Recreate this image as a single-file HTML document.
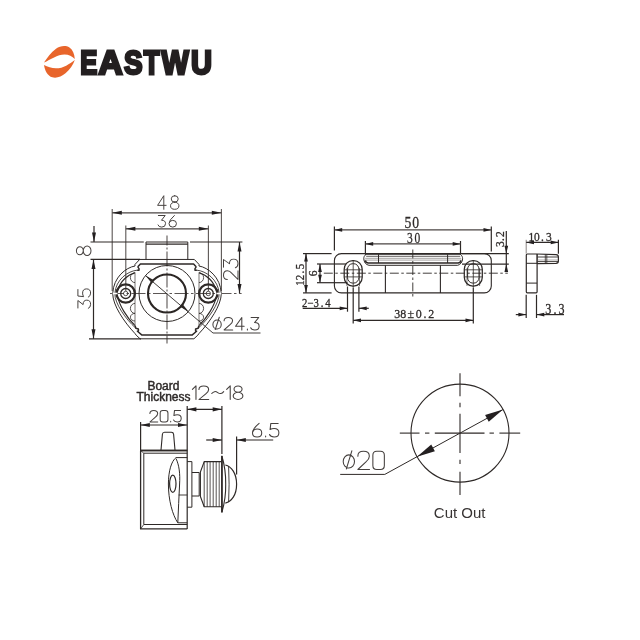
<!DOCTYPE html>
<html><head><meta charset="utf-8"><title>EASTWU drawing</title>
<style>
html,body{margin:0;padding:0;background:#fff;}
body{width:640px;height:640px;overflow:hidden;font-family:"Liberation Sans",sans-serif;}
svg{display:block;}
text{font-family:"Liberation Sans",sans-serif;}
.ser{font-family:"Liberation Serif",serif;}
</style></head><body>
<svg width="640" height="640" viewBox="0 0 640 640">
<defs><filter id="aa" x="0" y="0" width="640" height="640" filterUnits="userSpaceOnUse" color-interpolation-filters="sRGB"><feGaussianBlur stdDeviation="0.35"/></filter></defs>
<rect x="0" y="0" width="640" height="640" fill="#ffffff"/>
<g filter="url(#aa)">
<g id="logo">
<path d="M44.0,62.6 C47,58 51,52.5 56,48.8 C60,46 65.5,45 69.5,47.6 C72.8,49.8 74.4,54 74.8,58.9 C72.3,56.6 68.8,54.6 64.5,54.6 C57.5,54.6 50.5,59.9 44.0,62.6 Z" fill="#e8652b"/>
<path d="M44.0,64.9 C47.5,66.6 51.5,68.3 56,68.3 C63.5,68.3 69.5,63.8 74.8,59.9 C73.2,64.5 70,69.5 65.5,73.3 C61.5,76.6 56.5,78.6 52.3,77.3 C47.5,75.8 44.8,70.5 44.0,64.9 Z" fill="#e8652b"/>
<text transform="translate(80.19,73.60) scale(0.7545,1)" font-size="33.99" font-weight="bold" fill="#231f20" stroke="#231f20" stroke-width="2.8" stroke-linejoin="miter">E</text>
<text transform="translate(98.44,73.60) scale(0.9816,1)" font-size="33.99" font-weight="bold" fill="#231f20" stroke="#231f20" stroke-width="2.8" stroke-linejoin="miter">A</text>
<text transform="translate(124.01,73.60) scale(0.8193,1)" font-size="33.99" font-weight="bold" fill="#231f20" stroke="#231f20" stroke-width="2.8" stroke-linejoin="miter">S</text>
<text transform="translate(143.70,73.60) scale(0.7571,1)" font-size="33.99" font-weight="bold" fill="#231f20" stroke="#231f20" stroke-width="2.8" stroke-linejoin="miter">T</text>
<text transform="translate(161.59,73.60) scale(0.8490,1)" font-size="33.99" font-weight="bold" fill="#231f20" stroke="#231f20" stroke-width="2.8" stroke-linejoin="miter">W</text>
<text transform="translate(190.95,73.60) scale(0.8538,1)" font-size="33.99" font-weight="bold" fill="#231f20" stroke="#231f20" stroke-width="2.8" stroke-linejoin="miter">U</text>
</g>
<g id="tl">
<line x1="112.20" y1="209.00" x2="112.20" y2="291.00" stroke="#5b5654" stroke-width="1.1"/>
<line x1="221.40" y1="209.00" x2="221.40" y2="291.00" stroke="#5b5654" stroke-width="1.1"/>
<line x1="112.20" y1="212.80" x2="221.40" y2="212.80" stroke="#4a4543" stroke-width="1.15"/>
<polygon points="112.20,212.70 121.80,210.70 121.80,214.70" fill="#231f20"/>
<polygon points="221.40,212.70 211.80,214.70 211.80,210.70" fill="#231f20"/>
<g transform="translate(157.60,195.70) scale(1.2920,1.3600)" fill="none" stroke="#45403e" stroke-width="0.735" stroke-linecap="round" stroke-linejoin="round"><path d="M4.8,10 V0 L0,7.1 H6.6" transform="translate(0.00,0)"/><path d="M3.25,0 A2.7,2.35 0 1 0 3.25,4.7 A2.7,2.35 0 1 0 3.25,0 Z M3.25,4.7 A3.25,2.65 0 1 0 3.25,10 A3.25,2.65 0 1 0 3.25,4.7 Z" transform="translate(10.00,0)"/></g>
<line x1="125.80" y1="225.50" x2="125.80" y2="291.00" stroke="#5b5654" stroke-width="1.1"/>
<line x1="208.40" y1="225.50" x2="208.40" y2="291.00" stroke="#5b5654" stroke-width="1.1"/>
<line x1="125.80" y1="228.85" x2="208.40" y2="228.85" stroke="#4a4543" stroke-width="1.15"/>
<polygon points="125.80,228.85 135.40,226.85 135.40,230.85" fill="#231f20"/>
<polygon points="208.40,228.85 198.80,230.85 198.80,226.85" fill="#231f20"/>
<g transform="translate(158.00,215.50) scale(1.1600,1.1600)" fill="none" stroke="#45403e" stroke-width="0.862" stroke-linecap="round" stroke-linejoin="round"><path d="M0.3,0 H6.2 L3.0,4.1 Q6.5,4.1 6.5,7 Q6.5,10 3.2,10 Q0.6,10 0,8.2" transform="translate(0.00,0)"/><path d="M4.6,0 Q0,4 0,7 Q0,10 3.2,10 Q6.4,10 6.4,7 Q6.4,4.2 3.2,4.2 Q0.9,4.2 0.2,6.2" transform="translate(9.50,0)"/></g>
<line x1="90.50" y1="242.00" x2="143.80" y2="242.00" stroke="#2e2927" stroke-width="1.1"/>
<line x1="190.00" y1="242.00" x2="242.40" y2="242.00" stroke="#2e2927" stroke-width="1.1"/>
<line x1="90.50" y1="259.30" x2="140.00" y2="259.30" stroke="#2e2927" stroke-width="1.2"/>
<line x1="89.00" y1="338.80" x2="141.00" y2="338.80" stroke="#2e2927" stroke-width="1.2"/>
<line x1="94.00" y1="226.00" x2="94.00" y2="242.00" stroke="#2e2927" stroke-width="1.2"/>
<polygon points="94.00,242.00 92.00,232.40 96.00,232.40" fill="#231f20"/>
<line x1="93.50" y1="259.50" x2="93.50" y2="338.80" stroke="#2e2927" stroke-width="1.2"/>
<polygon points="93.50,259.50 95.50,269.10 91.50,269.10" fill="#231f20"/>
<polygon points="93.50,338.80 91.50,329.20 95.50,329.20" fill="#231f20"/>
<line x1="239.50" y1="242.00" x2="239.50" y2="293.50" stroke="#2e2927" stroke-width="1.2"/>
<polygon points="239.50,242.00 241.50,251.60 237.50,251.60" fill="#231f20"/>
<polygon points="239.50,293.50 237.50,283.90 241.50,283.90" fill="#231f20"/>
<line x1="110.00" y1="293.50" x2="241.60" y2="293.50" stroke="#5b5654" stroke-width="1.1" stroke-dasharray="14 2.5 2.5 2.5"/>
<line x1="167.00" y1="235.60" x2="167.00" y2="343.60" stroke="#5b5654" stroke-width="1.1" stroke-dasharray="15 2 2 2" stroke-dashoffset="5"/>
<path d="M146,259.5 V242 H187.8 V259.5" stroke="#2e2927" stroke-width="1.0" fill="none" stroke-linejoin="round"/>
<line x1="146.00" y1="244.20" x2="187.80" y2="244.20" stroke="#2e2927" stroke-width="1.2"/>
<path d="M167,259.45 L139.7,259.45 L135,264.4 L135,266 C126,267.5 113.5,277 112.7,293.5 C112.7,305 124,322 135.2,333.75 L136.2,335.2 L140.1,338.8 L167,338.8" stroke="#2e2927" stroke-width="1.0" fill="none" stroke-linejoin="round"/>
<path d="M167.00,259.45 L194.30,259.45 L199.00,264.4 L199.00,266 C208.00,267.5 220.50,277 221.30,293.5 C221.30,305 210.00,322 198.80,333.75 L197.80,335.2 L193.90,338.8 L167.00,338.8" stroke="#2e2927" stroke-width="1.0" fill="none" stroke-linejoin="round"/>
<path d="M137.1,270.2 C128,271 115.8,279.5 114.8,293.5 C114.8,303.5 125.5,319 135.9,328.3" stroke="#2e2927" stroke-width="0.85" fill="none" stroke-linejoin="round"/>
<path d="M196.90,270.2 C206.00,271 218.20,279.5 219.20,293.5 C219.20,303.5 208.50,319 198.10,328.3" stroke="#2e2927" stroke-width="0.85" fill="none" stroke-linejoin="round"/>
<path d="M135,273 C128,274.5 120,281 118,290.5 M117.8,296.5 C119,305 127,318 135,325.5" stroke="#2e2927" stroke-width="1.15" fill="none" stroke-linejoin="round"/>
<path d="M199.00,273 C206.00,274.5 214.00,281 216.00,290.5 M216.20,296.5 C215.00,305 207.00,318 199.00,325.5" stroke="#2e2927" stroke-width="1.15" fill="none" stroke-linejoin="round"/>
<path d="M167,264.1 L140.4,264.1 L138.1,266.5 L138.1,267.4 L139,268.6 L139,270.2 L137.1,270.2" stroke="#2e2927" stroke-width="1.5" fill="none" stroke-linejoin="round"/>
<path d="M167.00,264.1 L193.60,264.1 L195.90,266.5 L195.90,267.4 L195.00,268.6 L195.00,270.2 L196.90,270.2" stroke="#2e2927" stroke-width="1.5" fill="none" stroke-linejoin="round"/>
<path d="M135.0,325.5 L135.9,328.3 L138.4,328.9 L138.4,331 L137.4,331.2 L142.0,335.1 L167,335.1" stroke="#2e2927" stroke-width="1.5" fill="none" stroke-linejoin="round"/>
<path d="M199.00,325.5 L198.10,328.3 L195.60,328.9 L195.60,331 L196.60,331.2 L192.00,335.1 L167.00,335.1" stroke="#2e2927" stroke-width="1.5" fill="none" stroke-linejoin="round"/>
<line x1="135.00" y1="272.30" x2="135.00" y2="325.00" stroke="#6a6563" stroke-width="0.9"/>
<path d="M135.0,272.6 A4.6,5.00 0 0 0 135.0,282.6" stroke="#2e2927" stroke-width="0.8" fill="none" stroke-linejoin="round"/>
<path d="M135.0,303.4 A4.6,5.00 0 0 0 135.0,313.4" stroke="#2e2927" stroke-width="0.8" fill="none" stroke-linejoin="round"/>
<path d="M135.0,313.4 A4.6,3.80 0 0 0 135.0,321.0" stroke="#2e2927" stroke-width="0.8" fill="none" stroke-linejoin="round"/>
<line x1="199.00" y1="272.30" x2="199.00" y2="325.00" stroke="#6a6563" stroke-width="0.9"/>
<path d="M199.0,272.6 A4.6,5.00 0 0 1 199.0,282.6" stroke="#2e2927" stroke-width="0.8" fill="none" stroke-linejoin="round"/>
<path d="M199.0,303.4 A4.6,5.00 0 0 1 199.0,313.4" stroke="#2e2927" stroke-width="0.8" fill="none" stroke-linejoin="round"/>
<path d="M199.0,313.4 A4.6,3.80 0 0 1 199.0,321.0" stroke="#2e2927" stroke-width="0.8" fill="none" stroke-linejoin="round"/>
<circle cx="167.0" cy="293.5" r="28" fill="none" stroke="#2e2927" stroke-width="1"/>
<circle cx="167.0" cy="293.5" r="19" fill="none" stroke="#2b2624" stroke-width="2.1"/>
<circle cx="125.7" cy="293.5" r="9.2" fill="none" stroke="#2e2927" stroke-width="2.3"/>
<circle cx="125.7" cy="293.5" r="5.0" fill="none" stroke="#2e2927" stroke-width="1.3"/>
<circle cx="125.7" cy="293.5" r="2.2" fill="none" stroke="#2e2927" stroke-width="0.8"/>
<circle cx="208.3" cy="293.5" r="9.2" fill="none" stroke="#2e2927" stroke-width="2.3"/>
<circle cx="208.3" cy="293.5" r="5.0" fill="none" stroke="#2e2927" stroke-width="1.3"/>
<circle cx="208.3" cy="293.5" r="2.2" fill="none" stroke="#2e2927" stroke-width="0.8"/>
<line x1="112.70" y1="293.50" x2="117.50" y2="293.50" stroke="#ffffff" stroke-width="1.6"/>
<line x1="216.50" y1="293.50" x2="221.30" y2="293.50" stroke="#ffffff" stroke-width="1.6"/>
<line x1="145.49" y1="275.58" x2="213.00" y2="333.00" stroke="#2e2927" stroke-width="0.9"/>
<line x1="213.00" y1="333.00" x2="260.50" y2="333.00" stroke="#2e2927" stroke-width="0.9"/>
<polygon points="145.49,275.58 153.11,279.71 150.93,282.32" fill="#2b2624"/>
<polygon points="188.51,311.42 180.89,307.29 183.07,304.68" fill="#2b2624"/>
<g transform="translate(212.90,317.50) scale(1.3020,1.2400)" fill="none" stroke="#45403e" stroke-width="0.806" stroke-linecap="round" stroke-linejoin="round"><path d="M3.2,2 A3.2,3.6 0 1 0 3.2,9.2 A3.2,3.6 0 1 0 3.2,2 Z M1.8,9.7 L4.9,-0.2" transform="translate(0.00,0)"/><path d="M0,2.7 Q0,0 3.2,0 Q6.5,0 6.5,2.7 Q6.5,4.3 4.6,5.8 L0,10 H6.6" transform="translate(8.60,0)"/><path d="M4.8,10 V0 L0,7.1 H6.6" transform="translate(17.40,0)"/><path d="M0.3,9.3 V10" transform="translate(26.20,0)"/><path d="M0.3,0 H6.2 L3.0,4.1 Q6.5,4.1 6.5,7 Q6.5,10 3.2,10 Q0.6,10 0,8.2" transform="translate(29.00,0)"/></g>
<g transform="translate(76.4,255.6) rotate(-90) scale(1.4892,1.4600)" fill="none" stroke="#45403e" stroke-width="0.685" stroke-linecap="round" stroke-linejoin="round"><path d="M3.25,0 A2.7,2.35 0 1 0 3.25,4.7 A2.7,2.35 0 1 0 3.25,0 Z M3.25,4.7 A3.25,2.65 0 1 0 3.25,10 A3.25,2.65 0 1 0 3.25,4.7 Z" transform="translate(0.00,0)"/></g>
<g transform="translate(77.9,308.4) rotate(-90) scale(1.2700,1.2700)" fill="none" stroke="#45403e" stroke-width="0.787" stroke-linecap="round" stroke-linejoin="round"><path d="M0.3,0 H6.2 L3.0,4.1 Q6.5,4.1 6.5,7 Q6.5,10 3.2,10 Q0.6,10 0,8.2" transform="translate(0.00,0)"/><path d="M6,0 H0.9 L0.4,4.5 Q1.6,3.7 3.2,3.7 Q6.5,3.7 6.5,6.8 Q6.5,10 3.2,10 Q0.7,10 0,8.2" transform="translate(8.85,0)"/></g>
<g transform="translate(223.5,279.5) rotate(-90) scale(1.3340,1.4500)" fill="none" stroke="#45403e" stroke-width="0.690" stroke-linecap="round" stroke-linejoin="round"><path d="M0,2.7 Q0,0 3.2,0 Q6.5,0 6.5,2.7 Q6.5,4.3 4.6,5.8 L0,10 H6.6" transform="translate(0.00,0)"/><path d="M0.3,0 H6.2 L3.0,4.1 Q6.5,4.1 6.5,7 Q6.5,10 3.2,10 Q0.6,10 0,8.2" transform="translate(8.80,0)"/></g>
</g>
<g id="tr">
<line x1="334.40" y1="226.60" x2="334.40" y2="250.60" stroke="#2e2927" stroke-width="1.2"/>
<line x1="491.30" y1="226.60" x2="491.30" y2="251.60" stroke="#2e2927" stroke-width="1.2"/>
<line x1="334.40" y1="229.90" x2="491.30" y2="229.90" stroke="#4a4543" stroke-width="1.1"/>
<polygon points="334.40,229.90 342.20,228.05 342.20,231.75" fill="#231f20"/>
<polygon points="491.30,229.90 483.50,231.75 483.50,228.05" fill="#231f20"/>
<text class="ser" transform="translate(407.95,227.60) scale(0.78,1)" font-size="17.5" text-anchor="middle" fill="#2e2a29" stroke="#2e2a29" stroke-width="0.3">5</text><text class="ser" transform="translate(415.75,227.60) scale(0.78,1)" font-size="17.5" text-anchor="middle" fill="#2e2a29" stroke="#2e2a29" stroke-width="0.3">0</text>
<line x1="365.40" y1="241.00" x2="365.40" y2="254.50" stroke="#2e2927" stroke-width="1.2"/>
<line x1="460.50" y1="241.00" x2="460.50" y2="254.50" stroke="#2e2927" stroke-width="1.2"/>
<line x1="365.40" y1="243.90" x2="460.50" y2="243.90" stroke="#4a4543" stroke-width="1.1"/>
<polygon points="365.40,243.90 373.20,242.05 373.20,245.75" fill="#231f20"/>
<polygon points="460.50,243.90 452.70,245.75 452.70,242.05" fill="#231f20"/>
<text class="ser" transform="translate(409.85,242.60) scale(0.77,1)" font-size="14.9" text-anchor="middle" fill="#2e2a29" stroke="#2e2a29" stroke-width="0.3">3</text><text class="ser" transform="translate(417.35,242.60) scale(0.77,1)" font-size="14.9" text-anchor="middle" fill="#2e2a29" stroke="#2e2a29" stroke-width="0.3">0</text>
<rect x="334.4" y="253.6" width="156.90000000000003" height="39.29999999999998" rx="7" ry="7" fill="none" stroke="#2e2927" stroke-width="1.1"/>
<line x1="323.80" y1="273.20" x2="507.80" y2="273.20" stroke="#2e2927" stroke-width="0.9" stroke-dasharray="9 2.5 2.5 2.5"/>
<line x1="412.80" y1="249.50" x2="412.80" y2="297.50" stroke="#2e2927" stroke-width="0.9" stroke-dasharray="9 2.5 2.5 2.5"/>
<rect x="344.2" y="260.5" width="18" height="25.6" rx="8.6" ry="8.8" fill="none" stroke="#2e2927" stroke-width="1.25"/>
<rect x="347.5" y="263.7" width="11.4" height="19.4" rx="5.2" ry="5.6" fill="none" stroke="#2e2927" stroke-width="1.0"/>
<line x1="344.40" y1="269.80" x2="362.00" y2="269.80" stroke="#2e2927" stroke-width="0.8"/>
<line x1="344.40" y1="276.90" x2="362.00" y2="276.90" stroke="#2e2927" stroke-width="0.8"/>
<line x1="353.20" y1="260.50" x2="353.20" y2="288.00" stroke="#2e2927" stroke-width="0.8"/>
<line x1="346.90" y1="268.00" x2="346.90" y2="286.00" stroke="#2e2927" stroke-width="0.6"/>
<line x1="359.50" y1="268.00" x2="359.50" y2="286.00" stroke="#2e2927" stroke-width="0.6"/>
<rect x="464.3" y="260.5" width="18" height="25.6" rx="8.6" ry="8.8" fill="none" stroke="#2e2927" stroke-width="1.25"/>
<rect x="467.6" y="263.7" width="11.4" height="19.4" rx="5.2" ry="5.6" fill="none" stroke="#2e2927" stroke-width="1.0"/>
<line x1="464.50" y1="269.80" x2="482.10" y2="269.80" stroke="#2e2927" stroke-width="0.8"/>
<line x1="464.50" y1="276.90" x2="482.10" y2="276.90" stroke="#2e2927" stroke-width="0.8"/>
<line x1="473.30" y1="260.50" x2="473.30" y2="288.00" stroke="#2e2927" stroke-width="0.8"/>
<line x1="467.00" y1="268.00" x2="467.00" y2="286.00" stroke="#2e2927" stroke-width="0.6"/>
<line x1="479.60" y1="268.00" x2="479.60" y2="286.00" stroke="#2e2927" stroke-width="0.6"/>
<path d="M366,254.3 C364.4,255.6 363.7,257 363.8,258.8 C363.9,261.8 365.6,264.9 369,265.3 H457.6 C460.4,264.9 462.5,261.8 462.6,258.8 C462.6,257 462,255.6 460.4,254.3" stroke="#2e2927" stroke-width="1.0" fill="none" stroke-linejoin="round"/>
<line x1="365.40" y1="254.20" x2="460.70" y2="254.20" stroke="#2e2927" stroke-width="1.1"/>
<line x1="366.20" y1="256.30" x2="460.20" y2="256.30" stroke="#2e2927" stroke-width="0.75"/>
<line x1="365.20" y1="258.30" x2="461.20" y2="258.30" stroke="#6a6563" stroke-width="0.6"/>
<line x1="365.20" y1="260.10" x2="461.20" y2="260.10" stroke="#6a6563" stroke-width="0.6"/>
<path d="M365.4,260.4 C365.6,262.3 366.5,263 368.3,263 H458 C459.8,263 460.7,262.3 460.9,260.4" stroke="#2e2927" stroke-width="1.5" fill="none" stroke-linejoin="round"/>
<line x1="378.50" y1="254.20" x2="378.50" y2="263.00" stroke="#2e2927" stroke-width="1.0"/>
<line x1="447.60" y1="254.20" x2="447.60" y2="263.00" stroke="#2e2927" stroke-width="1.0"/>
<line x1="385.40" y1="265.30" x2="385.40" y2="292.90" stroke="#2e2927" stroke-width="1.1"/>
<line x1="440.40" y1="265.30" x2="440.40" y2="292.90" stroke="#2e2927" stroke-width="1.1"/>
<line x1="303.00" y1="253.60" x2="331.60" y2="253.60" stroke="#2e2927" stroke-width="1.2"/>
<line x1="303.00" y1="292.90" x2="331.60" y2="292.90" stroke="#2e2927" stroke-width="1.2"/>
<line x1="306.00" y1="253.60" x2="306.00" y2="292.90" stroke="#2e2927" stroke-width="1.2"/>
<polygon points="306.00,253.60 307.85,261.40 304.15,261.40" fill="#231f20"/>
<polygon points="306.00,292.90 304.15,285.10 307.85,285.10" fill="#231f20"/>
<text class="ser" transform="translate(304.20,283.00) rotate(-90) scale(0.9,1)" font-size="12.1" text-anchor="middle" fill="#2e2a29" stroke="#2e2a29" stroke-width="0.3">1</text><text class="ser" transform="translate(304.20,277.50) rotate(-90) scale(0.9,1)" font-size="12.1" text-anchor="middle" fill="#2e2a29" stroke="#2e2a29" stroke-width="0.3">2</text><text class="ser" transform="translate(304.20,272.20) rotate(-90) scale(0.9,1)" font-size="12.1" text-anchor="middle" fill="#2e2a29" stroke="#2e2a29" stroke-width="0.3">.</text><text class="ser" transform="translate(304.20,266.50) rotate(-90) scale(0.9,1)" font-size="12.1" text-anchor="middle" fill="#2e2a29" stroke="#2e2a29" stroke-width="0.3">5</text>
<line x1="317.00" y1="264.00" x2="346.00" y2="264.00" stroke="#2e2927" stroke-width="1.2"/>
<line x1="317.00" y1="282.70" x2="347.50" y2="282.70" stroke="#2e2927" stroke-width="1.2"/>
<line x1="320.00" y1="264.10" x2="320.00" y2="282.50" stroke="#2e2927" stroke-width="1.2"/>
<polygon points="320.00,264.10 321.85,271.90 318.15,271.90" fill="#231f20"/>
<polygon points="320.00,282.50 318.15,274.70 321.85,274.70" fill="#231f20"/>
<text class="ser" transform="translate(317.40,273.35) rotate(-90) scale(0.9,1)" font-size="12.8" text-anchor="middle" fill="#2e2a29" stroke="#2e2a29" stroke-width="0.3">6</text>
<line x1="347.50" y1="286.50" x2="347.50" y2="311.70" stroke="#2e2927" stroke-width="1.2"/>
<line x1="358.90" y1="286.50" x2="358.90" y2="311.70" stroke="#2e2927" stroke-width="1.2"/>
<line x1="302.70" y1="308.30" x2="347.50" y2="308.30" stroke="#2e2927" stroke-width="1.2"/>
<line x1="358.90" y1="308.30" x2="368.80" y2="308.30" stroke="#2e2927" stroke-width="1.2"/>
<polygon points="347.50,308.30 339.70,310.15 339.70,306.45" fill="#231f20"/>
<polygon points="358.90,308.30 366.70,306.45 366.70,310.15" fill="#231f20"/>
<text class="ser" transform="translate(304.70,306.90) scale(0.9,1)" font-size="11.9" text-anchor="middle" fill="#2e2a29" stroke="#2e2a29" stroke-width="0.3">2</text><text class="ser" transform="translate(310.50,306.90) scale(0.9,1)" font-size="11.9" text-anchor="middle" fill="#2e2a29" stroke="#2e2a29" stroke-width="0.3">&#8722;</text><text class="ser" transform="translate(316.30,306.90) scale(0.9,1)" font-size="11.9" text-anchor="middle" fill="#2e2a29" stroke="#2e2a29" stroke-width="0.3">3</text><text class="ser" transform="translate(322.10,306.90) scale(0.9,1)" font-size="11.9" text-anchor="middle" fill="#2e2a29" stroke="#2e2a29" stroke-width="0.3">.</text><text class="ser" transform="translate(327.90,306.90) scale(0.9,1)" font-size="11.9" text-anchor="middle" fill="#2e2a29" stroke="#2e2a29" stroke-width="0.3">4</text>
<line x1="353.20" y1="288.00" x2="353.20" y2="323.40" stroke="#2e2927" stroke-width="1.2"/>
<line x1="473.30" y1="288.00" x2="473.30" y2="323.40" stroke="#2e2927" stroke-width="1.2"/>
<line x1="353.20" y1="320.30" x2="473.30" y2="320.30" stroke="#2e2927" stroke-width="1.2"/>
<polygon points="353.20,320.30 361.00,318.45 361.00,322.15" fill="#231f20"/>
<polygon points="473.30,320.30 465.50,322.15 465.50,318.45" fill="#231f20"/>
<text class="ser" transform="translate(397.35,318.30) scale(0.9,1)" font-size="13.3" text-anchor="middle" fill="#2e2a29" stroke="#2e2a29" stroke-width="0.3">3</text><text class="ser" transform="translate(403.15,318.30) scale(0.9,1)" font-size="13.3" text-anchor="middle" fill="#2e2a29" stroke="#2e2a29" stroke-width="0.3">8</text><text class="ser" transform="translate(410.75,318.30) scale(0.9,1)" font-size="13.3" text-anchor="middle" fill="#2e2a29" stroke="#2e2a29" stroke-width="0.3">&#177;</text><text class="ser" transform="translate(418.80,318.30) scale(0.9,1)" font-size="13.3" text-anchor="middle" fill="#2e2a29" stroke="#2e2a29" stroke-width="0.3">0</text><text class="ser" transform="translate(425.00,318.30) scale(0.9,1)" font-size="13.3" text-anchor="middle" fill="#2e2a29" stroke="#2e2a29" stroke-width="0.3">.</text><text class="ser" transform="translate(431.25,318.30) scale(0.9,1)" font-size="13.3" text-anchor="middle" fill="#2e2a29" stroke="#2e2a29" stroke-width="0.3">2</text>
<line x1="462.00" y1="253.60" x2="508.80" y2="253.60" stroke="#2e2927" stroke-width="1.2"/>
<line x1="462.00" y1="264.10" x2="508.80" y2="264.10" stroke="#2e2927" stroke-width="1.2"/>
<line x1="506.30" y1="231.00" x2="506.30" y2="272.00" stroke="#2e2927" stroke-width="1.2"/>
<polygon points="506.30,253.60 504.45,245.80 508.15,245.80" fill="#231f20"/>
<polygon points="506.30,264.10 508.15,271.90 504.45,271.90" fill="#231f20"/>
<text class="ser" transform="translate(503.75,244.20) rotate(-90) scale(0.9,1)" font-size="12.7" text-anchor="middle" fill="#2e2a29" stroke="#2e2a29" stroke-width="0.3">3</text><text class="ser" transform="translate(503.75,239.50) rotate(-90) scale(0.9,1)" font-size="12.7" text-anchor="middle" fill="#2e2a29" stroke="#2e2a29" stroke-width="0.3">.</text><text class="ser" transform="translate(503.75,234.25) rotate(-90) scale(0.9,1)" font-size="12.7" text-anchor="middle" fill="#2e2a29" stroke="#2e2a29" stroke-width="0.3">2</text>
<path d="M526.3,255 Q526.3,254 527.3,254 H536.5 L556,254.6 Q558.4,254.8 558.4,257 V261 Q558.4,263.3 556,263.4 L537.1,263.6 V291.8 Q537.1,292.8 536.1,292.8 H527.3 Q526.3,292.8 526.3,291.8 Z" stroke="#2e2927" stroke-width="1.2" fill="none" stroke-linejoin="round"/>
<line x1="526.20" y1="263.30" x2="537.00" y2="263.30" stroke="#2e2927" stroke-width="1.0"/>
<line x1="526.20" y1="283.10" x2="537.00" y2="283.10" stroke="#2e2927" stroke-width="1.0"/>
<line x1="537.10" y1="254.00" x2="537.10" y2="263.50" stroke="#2e2927" stroke-width="1.5"/>
<line x1="537.50" y1="257.00" x2="558.00" y2="257.00" stroke="#2e2927" stroke-width="0.9"/>
<line x1="537.50" y1="260.00" x2="558.00" y2="260.00" stroke="#7a7573" stroke-width="0.6"/>
<line x1="537.50" y1="261.60" x2="558.00" y2="261.60" stroke="#2e2927" stroke-width="0.9"/>
<line x1="545.30" y1="254.30" x2="545.30" y2="263.40" stroke="#2e2927" stroke-width="0.8"/>
<line x1="546.80" y1="254.30" x2="546.80" y2="263.40" stroke="#2e2927" stroke-width="0.8"/>
<line x1="526.20" y1="239.80" x2="526.20" y2="253.60" stroke="#8a8583" stroke-width="1.0"/>
<line x1="558.40" y1="239.80" x2="558.40" y2="253.80" stroke="#2e2927" stroke-width="1.2"/>
<line x1="526.20" y1="242.40" x2="558.50" y2="242.40" stroke="#2e2927" stroke-width="1.2"/>
<polygon points="526.20,242.40 534.00,240.55 534.00,244.25" fill="#231f20"/>
<polygon points="558.50,242.40 550.70,244.25 550.70,240.55" fill="#231f20"/>
<text class="ser" transform="translate(531.40,241.00) scale(0.9,1)" font-size="12.7" text-anchor="middle" fill="#2e2a29" stroke="#2e2a29" stroke-width="0.3">1</text><text class="ser" transform="translate(536.90,241.00) scale(0.9,1)" font-size="12.7" text-anchor="middle" fill="#2e2a29" stroke="#2e2a29" stroke-width="0.3">0</text><text class="ser" transform="translate(542.50,241.00) scale(0.9,1)" font-size="12.7" text-anchor="middle" fill="#2e2a29" stroke="#2e2a29" stroke-width="0.3">.</text><text class="ser" transform="translate(548.90,241.00) scale(0.9,1)" font-size="12.7" text-anchor="middle" fill="#2e2a29" stroke="#2e2a29" stroke-width="0.3">3</text>
<line x1="526.20" y1="294.80" x2="526.20" y2="318.00" stroke="#2e2927" stroke-width="1.2"/>
<line x1="536.50" y1="294.80" x2="536.50" y2="318.00" stroke="#2e2927" stroke-width="1.2"/>
<line x1="515.80" y1="314.60" x2="526.20" y2="314.60" stroke="#2e2927" stroke-width="1.2"/>
<line x1="536.50" y1="314.60" x2="564.00" y2="314.60" stroke="#2e2927" stroke-width="1.2"/>
<polygon points="526.20,314.60 518.40,316.45 518.40,312.75" fill="#231f20"/>
<polygon points="536.50,314.60 544.30,312.75 544.30,316.45" fill="#231f20"/>
<text class="ser" transform="translate(548.20,314.00) scale(0.85,1)" font-size="14.2" text-anchor="middle" fill="#2e2a29" stroke="#2e2a29" stroke-width="0.3">3</text><text class="ser" transform="translate(554.90,314.00) scale(0.85,1)" font-size="14.2" text-anchor="middle" fill="#2e2a29" stroke="#2e2a29" stroke-width="0.3">.</text><text class="ser" transform="translate(561.55,314.00) scale(0.85,1)" font-size="14.2" text-anchor="middle" fill="#2e2a29" stroke="#2e2a29" stroke-width="0.3">3</text>
</g>
<g id="bl">
<text x="163.4" y="390.1" font-size="12" text-anchor="middle" fill="#2e2a29" stroke="#2e2a29" stroke-width="0.45">Board</text>
<text x="163.5" y="400.5" font-size="12" text-anchor="middle" fill="#2e2a29" stroke="#2e2a29" stroke-width="0.45">Thickness</text>
<g transform="translate(192.40,385.90) scale(1.4892,1.3600)" fill="none" stroke="#45403e" stroke-width="0.735" stroke-linecap="round" stroke-linejoin="round"><path d="M0,2.6 L2.4,0 V10" transform="translate(0.00,0)"/><path d="M0,2.7 Q0,0 3.2,0 Q6.5,0 6.5,2.7 Q6.5,4.3 4.6,5.8 L0,10 H6.6" transform="translate(4.40,0)"/><path d="M0,5.6 Q1.8,3.2 4,4.9 T8,4.2" transform="translate(13.00,0)"/><path d="M0,2.6 L2.4,0 V10" transform="translate(23.00,0)"/><path d="M3.25,0 A2.7,2.35 0 1 0 3.25,4.7 A2.7,2.35 0 1 0 3.25,0 Z M3.25,4.7 A3.25,2.65 0 1 0 3.25,10 A3.25,2.65 0 1 0 3.25,4.7 Z" transform="translate(27.40,0)"/></g>
<g transform="translate(149.90,410.40) scale(1.1948,1.1600)" fill="none" stroke="#45403e" stroke-width="0.862" stroke-linecap="round" stroke-linejoin="round"><path d="M0,2.7 Q0,0 3.2,0 Q6.5,0 6.5,2.7 Q6.5,4.3 4.6,5.8 L0,10 H6.6" transform="translate(0.00,0)"/><path d="M2.2,0 H4.3 Q6.5,0 6.5,2.2 V7.8 Q6.5,10 4.3,10 H2.2 Q0,10 0,7.8 V2.2 Q0,0 2.2,0 Z" transform="translate(8.60,0)"/><path d="M0.3,9.3 V10" transform="translate(17.10,0)"/><path d="M6,0 H0.9 L0.4,4.5 Q1.6,3.7 3.2,3.7 Q6.5,3.7 6.5,6.8 Q6.5,10 3.2,10 Q0.7,10 0,8.2" transform="translate(19.70,0)"/></g>
<g transform="translate(252.50,423.40) scale(1.4416,1.3600)" fill="none" stroke="#45403e" stroke-width="0.735" stroke-linecap="round" stroke-linejoin="round"><path d="M4.6,0 Q0,4 0,7 Q0,10 3.2,10 Q6.4,10 6.4,7 Q6.4,4.2 3.2,4.2 Q0.9,4.2 0.2,6.2" transform="translate(0.00,0)"/><path d="M0.3,9.3 V10" transform="translate(8.80,0)"/><path d="M6,0 H0.9 L0.4,4.5 Q1.6,3.7 3.2,3.7 Q6.5,3.7 6.5,6.8 Q6.5,10 3.2,10 Q0.7,10 0,8.2" transform="translate(11.80,0)"/></g>
<line x1="187.20" y1="406.00" x2="187.20" y2="528.90" stroke="#2e2927" stroke-width="1.2"/>
<line x1="221.90" y1="406.00" x2="221.90" y2="454.00" stroke="#2e2927" stroke-width="1.2"/>
<line x1="187.20" y1="409.30" x2="221.90" y2="409.30" stroke="#2e2927" stroke-width="1.2"/>
<polygon points="187.20,409.30 196.40,407.20 196.40,411.40" fill="#231f20"/>
<polygon points="221.90,409.30 212.70,411.40 212.70,407.20" fill="#231f20"/>
<line x1="140.60" y1="422.00" x2="140.60" y2="450.50" stroke="#2e2927" stroke-width="1.2"/>
<line x1="140.60" y1="425.00" x2="187.20" y2="425.00" stroke="#2e2927" stroke-width="1.2"/>
<polygon points="140.60,425.00 149.80,422.90 149.80,427.10" fill="#231f20"/>
<polygon points="187.20,425.00 178.00,427.10 178.00,422.90" fill="#231f20"/>
<line x1="236.60" y1="436.50" x2="236.60" y2="474.50" stroke="#2e2927" stroke-width="1.2"/>
<line x1="206.20" y1="440.00" x2="221.90" y2="440.00" stroke="#2e2927" stroke-width="1.2"/>
<polygon points="221.90,440.00 212.70,442.10 212.70,437.90" fill="#231f20"/>
<line x1="236.60" y1="440.00" x2="273.20" y2="440.00" stroke="#2e2927" stroke-width="1.2"/>
<polygon points="236.60,440.00 245.80,437.90 245.80,442.10" fill="#231f20"/>
<path d="M187.2,450.5 H140.6 V528.9 H187.2" stroke="#2e2927" stroke-width="1.3" fill="none" stroke-linejoin="round"/>
<line x1="140.60" y1="450.50" x2="187.20" y2="450.50" stroke="#2e2927" stroke-width="1.7"/>
<path d="M187.2,453.2 H143.8 V524.5 H187.2" stroke="#2e2927" stroke-width="1.0" fill="none" stroke-linejoin="round"/>
<line x1="140.60" y1="450.50" x2="143.80" y2="453.20" stroke="#2e2927" stroke-width="0.8"/>
<line x1="140.60" y1="528.90" x2="143.80" y2="524.50" stroke="#2e2927" stroke-width="0.8"/>
<path d="M161,450 L162.4,434.2 Q162.6,432.2 164.6,432.2 H171.4 Q173.4,432.2 173.6,434.2 L175,450" stroke="#2e2927" stroke-width="1.1" fill="none" stroke-linejoin="round"/>
<path d="M187.2,457.6 H176 C171.5,461 168.4,471 168.4,484 C168.4,500 172.5,515 177.8,522.8 H187.2" stroke="#2e2927" stroke-width="1.0" fill="none" stroke-linejoin="round"/>
<path d="M176,458.6 C179.2,465 180.2,474 179.6,484 C179,497 178.3,510 177.8,522.8" stroke="#2e2927" stroke-width="1.0" fill="none" stroke-linejoin="round"/>
<line x1="178.60" y1="495.00" x2="187.20" y2="495.00" stroke="#2e2927" stroke-width="0.9"/>
<ellipse cx="172.8" cy="483.8" rx="3.2" ry="8.6" fill="none" stroke="#2e2927" stroke-width="1.2"/>
<path d="M187.2,461.6 H191.9 V507.2 H187.2" stroke="#2e2927" stroke-width="1.0" fill="none" stroke-linejoin="round"/>
<path d="M191.9,472.5 H199.2 V496 H191.9" stroke="#2e2927" stroke-width="1.0" fill="none" stroke-linejoin="round"/>
<path d="M221.5,461.6 H204.2 L200.4,472 V496.5 L204.2,506.8 H221.5" stroke="#2e2927" stroke-width="1.1" fill="none" stroke-linejoin="round"/>
<line x1="204.20" y1="461.60" x2="204.20" y2="506.80" stroke="#2e2927" stroke-width="0.8"/>
<line x1="207.20" y1="461.60" x2="207.20" y2="506.80" stroke="#2e2927" stroke-width="0.8"/>
<line x1="210.10" y1="461.60" x2="210.10" y2="506.80" stroke="#2e2927" stroke-width="0.8"/>
<line x1="213.20" y1="461.60" x2="213.20" y2="506.80" stroke="#2e2927" stroke-width="0.8"/>
<line x1="216.20" y1="461.60" x2="216.20" y2="506.80" stroke="#2e2927" stroke-width="0.8"/>
<line x1="219.20" y1="461.60" x2="219.20" y2="506.80" stroke="#2e2927" stroke-width="0.8"/>
<path d="M221.9,456 Q226,470 225.7,484.2 Q226,498 221.9,512.3 Z" stroke="#2e2927" stroke-width="1.1" fill="none" stroke-linejoin="round"/>
<line x1="221.90" y1="456.00" x2="221.90" y2="512.30" stroke="#2e2927" stroke-width="1.6"/>
<path d="M225.3,465.0 C231.5,466.5 236.6,473.5 236.6,484.2 C236.6,495 231.5,501.6 225.3,503.1" stroke="#2e2927" stroke-width="1.2" fill="none" stroke-linejoin="round"/>
<path d="M228.6,466.2 Q229.6,484.2 228.6,502.2" stroke="#2e2927" stroke-width="0.9" fill="none" stroke-linejoin="round"/>
</g>
<g id="br">
<circle cx="460.0" cy="433.1" r="49.0" fill="none" stroke="#2e2927" stroke-width="1.1"/>
<line x1="460.00" y1="373.30" x2="460.00" y2="396.30" stroke="#2e2927" stroke-width="1.1"/>
<line x1="460.00" y1="402.80" x2="460.00" y2="407.20" stroke="#2e2927" stroke-width="1.1"/>
<line x1="460.00" y1="413.70" x2="460.00" y2="453.10" stroke="#2e2927" stroke-width="1.1"/>
<line x1="460.00" y1="459.70" x2="460.00" y2="464.10" stroke="#2e2927" stroke-width="1.1"/>
<line x1="460.00" y1="471.70" x2="460.00" y2="495.10" stroke="#2e2927" stroke-width="1.1"/>
<line x1="399.80" y1="433.10" x2="419.50" y2="433.10" stroke="#2e2927" stroke-width="1.1"/>
<line x1="425.00" y1="433.10" x2="429.40" y2="433.10" stroke="#2e2927" stroke-width="1.1"/>
<line x1="434.80" y1="433.10" x2="484.50" y2="433.10" stroke="#2e2927" stroke-width="1.1"/>
<line x1="489.50" y1="433.10" x2="493.90" y2="433.10" stroke="#2e2927" stroke-width="1.1"/>
<line x1="499.40" y1="433.10" x2="520.20" y2="433.10" stroke="#2e2927" stroke-width="1.1"/>
<line x1="502.98" y1="409.57" x2="384.80" y2="474.40" stroke="#2e2927" stroke-width="1.0"/>
<line x1="384.80" y1="474.40" x2="340.20" y2="474.40" stroke="#2e2927" stroke-width="1.0"/>
<polygon points="502.98,409.57 488.75,421.69 485.10,415.02" fill="#231f20"/>
<polygon points="417.02,456.63 431.25,444.51 434.90,451.18" fill="#231f20"/>
<g transform="translate(343.20,451.20) scale(1.7659,1.8300)" fill="none" stroke="#45403e" stroke-width="0.601" stroke-linecap="round" stroke-linejoin="round"><path d="M3.2,2 A3.2,3.6 0 1 0 3.2,9.2 A3.2,3.6 0 1 0 3.2,2 Z M1.8,9.7 L4.9,-0.2" transform="translate(0.00,0)"/><path d="M0,2.7 Q0,0 3.2,0 Q6.5,0 6.5,2.7 Q6.5,4.3 4.6,5.8 L0,10 H6.6" transform="translate(8.30,0)"/><path d="M2.2,0 H4.3 Q6.5,0 6.5,2.2 V7.8 Q6.5,10 4.3,10 H2.2 Q0,10 0,7.8 V2.2 Q0,0 2.2,0 Z" transform="translate(16.80,0)"/></g>
<text x="459.7" y="518" font-size="15" text-anchor="middle" fill="#383433">Cut Out</text>
</g>
</g>
</svg>
</body></html>
